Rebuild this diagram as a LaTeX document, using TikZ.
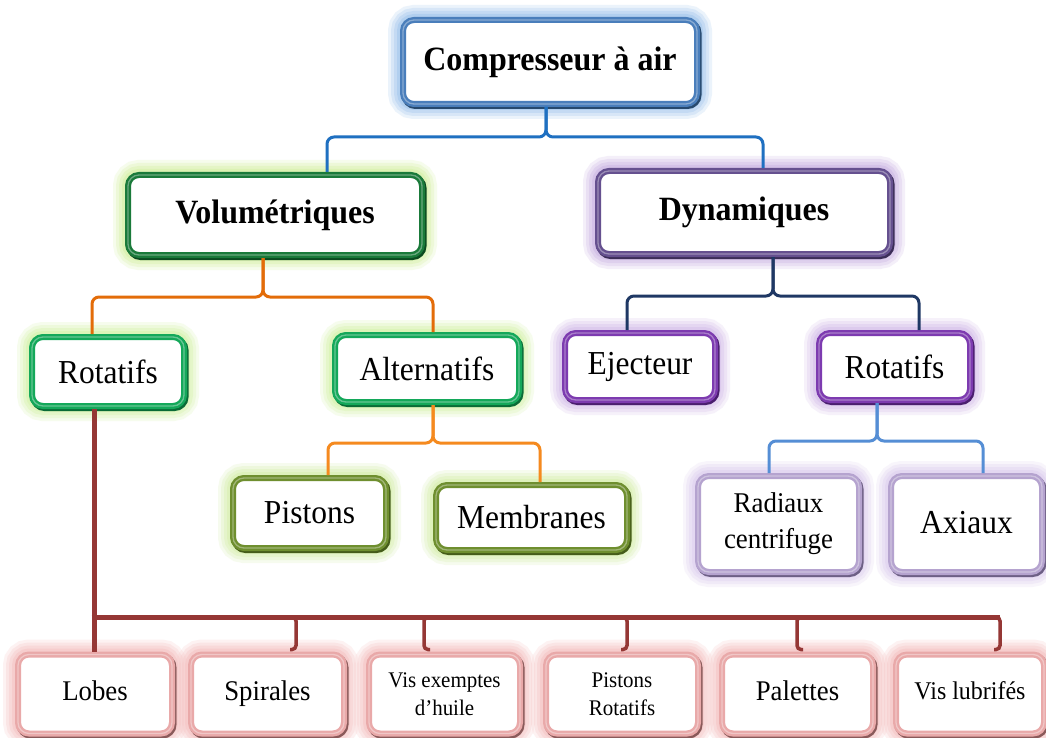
\documentclass[tikz,border=0pt]{standalone}
\usepackage{fontspec}
\setmainfont{Liberation Serif}[FakeStretch=0.94]
\usetikzlibrary{calc}
\definecolor{bTop}{HTML}{4A7EBB}\definecolor{gTop}{HTML}{9CC3EC}\definecolor{sTop}{HTML}{27496D}
\definecolor{bVol}{HTML}{1A7A3A}\definecolor{gVol}{HTML}{D4F0A0}\definecolor{sVol}{HTML}{0B4A20}
\definecolor{bDyn}{HTML}{65508F}\definecolor{gDyn}{HTML}{C9B3E3}\definecolor{sDyn}{HTML}{3B2D57}
\definecolor{bGrn}{HTML}{14A85A}\definecolor{gGrn}{HTML}{D4F2A6}\definecolor{sGrn}{HTML}{0A6B37}
\definecolor{bOli}{HTML}{6F8F2F}\definecolor{gOli}{HTML}{D6EEAA}\definecolor{sOli}{HTML}{455C1A}
\definecolor{bPur}{HTML}{7D3BB0}\definecolor{gPur}{HTML}{D3BDEA}\definecolor{sPur}{HTML}{4A1E6E}
\definecolor{bLav}{HTML}{B5A3CF}\definecolor{gLav}{HTML}{DCCDEF}\definecolor{sLav}{HTML}{6D5F85}
\definecolor{bPnk}{HTML}{E9A9A9}\definecolor{gPnk}{HTML}{F5C0C0}\definecolor{sPnk}{HTML}{8A5A5A}
\definecolor{cBlue}{HTML}{1F70C1}
\definecolor{cOra}{HTML}{E36C09}
\definecolor{cOra2}{HTML}{F58A1F}
\definecolor{cNavy}{HTML}{1F3864}
\definecolor{cLblue}{HTML}{558ED5}
\definecolor{cRed}{HTML}{953735}
\tikzset{
  bx/.style n args={3}{rectangle, rounded corners=11pt, fill=white, draw=#1,
    line width=6pt, outer sep=3pt, inner sep=0pt, align=center,
    preaction={draw=#2, line width=30pt, opacity=0.2},
    preaction={draw=#2, line width=24pt, opacity=0.25},
    preaction={draw=#2, line width=18pt, opacity=0.32},
    preaction={draw=#2, line width=12pt, opacity=0.45},
    preaction={draw=#3, line width=6pt, transform canvas={shift={(1.5pt,-2pt)}}},
    postaction={draw=white, line width=1.3pt, opacity=0.35}},
  fb/.style={font=\fontsize{34}{38}\selectfont\bfseries},
  fr/.style={font=\fontsize{33.5}{36}\selectfont},
  fm/.style={font=\fontsize{28.6}{36}\selectfont},
  fbt/.style={font=\fontsize{28.5}{30}\selectfont},
  fsm/.style={font=\fontsize{22.3}{28}\selectfont},
  fvl/.style={font=\fontsize{25.5}{28}\selectfont},
  con/.style={draw=#1, line width=3pt, rounded corners=7pt},
  cbr/.style={draw=cRed, line width=3.5pt, rounded corners=4pt},
}
\begin{document}
\begin{tikzpicture}[x=1pt,y=-1pt]
\useasboundingbox[fill=white] (0,0) rectangle (1046,738);
% boxes
\node[bx={bTop}{gTop}{sTop}, fb, minimum width=294pt, minimum height=84pt] (comp) at (550,62) {\raisebox{6pt}{Compresseur à air}};
\node[bx={bVol}{gVol}{sVol}, fb, minimum width=294pt, minimum height=80pt] (vol) at (275,215) {\raisebox{5pt}{Volumétriques}};
\node[bx={bDyn}{gDyn}{sDyn}, fb, minimum width=292pt, minimum height=83pt] (dyn) at (744,212.5) {\raisebox{5pt}{Dynamiques}};
\node[bx={bGrn}{gGrn}{sGrn}, fr, minimum width=152pt, minimum height=69pt] (rotL) at (108,371.5) {Rotatifs};
\node[bx={bGrn}{gGrn}{sGrn}, fr, minimum width=184pt, minimum height=67pt] (alt) at (427,368.5) {Alternatifs};
\node[bx={bOli}{gOli}{sOli}, fr, minimum width=153pt, minimum height=70pt] (pist) at (309.5,513) {Pistons};
\node[bx={bOli}{gOli}{sOli}, fr, minimum width=191pt, minimum height=65pt] (memb) at (531.5,517.5) {Membranes};
\node[bx={bPur}{gPur}{sPur}, fr, minimum width=150pt, minimum height=67pt] (ejec) at (640,366.5) {Ejecteur};
\node[bx={bPur}{gPur}{sPur}, fr, minimum width=151pt, minimum height=67pt] (rotR) at (894.5,366.5) {Rotatifs};
\node[bx={bLav}{gLav}{sLav}, fm, minimum width=161pt, minimum height=96pt] (rad) at (778.5,524) {Radiaux\\centrifuge};
\node[bx={bLav}{gLav}{sLav}, fr, minimum width=151pt, minimum height=96pt] (axi) at (966.5,524) {\raisebox{4pt}{Axiaux}};
\node[bx={bPnk}{gPnk}{sPnk}, fbt, minimum width=154pt, minimum height=79pt] (lobes) at (95,694) {\raisebox{7pt}{Lobes}};
\node[bx={bPnk}{gPnk}{sPnk}, fbt, minimum width=153pt, minimum height=79pt] (spir) at (267.5,694) {\raisebox{7pt}{Spirales}};
\node[bx={bPnk}{gPnk}{sPnk}, fsm, minimum width=151pt, minimum height=79pt] (visex) at (444.5,694) {Vis exemptes\\d’huile};
\node[bx={bPnk}{gPnk}{sPnk}, fsm, minimum width=152pt, minimum height=79pt] (pistr) at (622,694) {Pistons\\Rotatifs};
\node[bx={bPnk}{gPnk}{sPnk}, fbt, minimum width=151pt, minimum height=79pt] (pal) at (797.5,694) {\raisebox{7pt}{Palettes}};
\node[bx={bPnk}{gPnk}{sPnk}, fvl, minimum width=148pt, minimum height=79pt] (vislub) at (970,694) {\raisebox{7pt}{Vis lubrifés}};
% brace cusps
\coordinate (b1) at (546,137);
\coordinate (b2) at (263,297);
\coordinate (b3) at (433,443);
\coordinate (b4) at (773,296);
\coordinate (b5) at (877,441);
\coordinate (r1) at (94,617);
% braces
\draw[con=cBlue] ($(vol.north)+(52,0)$) |- (b1) -- (b1 |- comp.south);
\draw[con=cBlue] ($(dyn.north)+(19,0)$) |- (b1) -- (b1 |- comp.south);
\draw[con=cOra] ($(rotL.north)+(-16,0)$) |- (b2) -- (b2 |- vol.south);
\draw[con=cOra] ($(alt.north)+(6,0)$) |- (b2) -- (b2 |- vol.south);
\draw[con=cOra2] ($(pist.north)+(18.5,0)$) |- (b3) -- (b3 |- alt.south);
\draw[con=cOra2] ($(memb.north)+(8.5,0)$) |- (b3) -- (b3 |- alt.south);
\draw[con=cNavy] ($(ejec.north)+(-13,0)$) |- (b4) -- (b4 |- dyn.south);
\draw[con=cNavy] ($(rotR.north)+(24.5,0)$) |- (b4) -- (b4 |- dyn.south);
\draw[con=cLblue] ($(rad.north)+(-9.5,0)$) |- (b5) -- (b5 |- rotR.south);
\draw[con=cLblue] ($(axi.north)+(16.5,0)$) |- (b5) -- (b5 |- rotR.south);
% red tree
\draw[draw=cRed, line width=5pt] (r1 |- rotL.south) -- (r1 |- lobes.north);
\draw[draw=cRed, line width=5pt] ([xshift=-2.5pt]r1) -- ($(vislub.north |- r1)+(30,0)$);
\foreach \n/\dx/\s in {spir/28.5/22.5, visex/-20.5/-14.5, pistr/5/-1, pal/-0.5/5.5, vislub/30/24}{
  \draw[cbr] ($(\n.north |- r1)+(\s,0)$) -- ($(\n.north |- r1)+(\dx,0)$) -- ($(\n.north)+(\dx,-2)$) -- ($(\n.north)+(\s,-2)$);
}
\end{tikzpicture}
\end{document}
